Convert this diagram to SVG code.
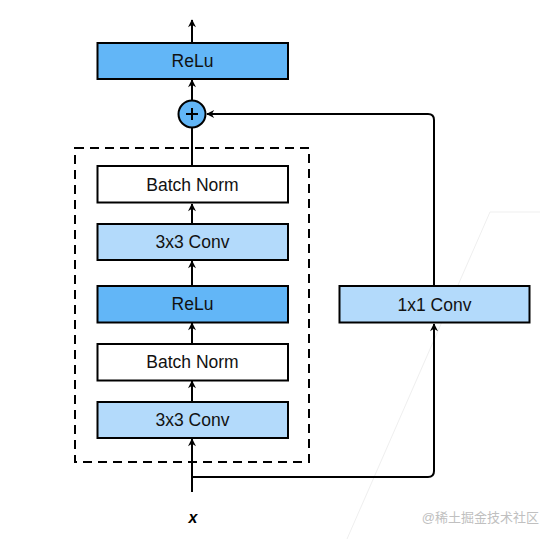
<svg xmlns="http://www.w3.org/2000/svg" width="543" height="539" viewBox="0 0 543 539">
<style>
.box{stroke:#000;stroke-width:2}
.dark{fill:#62b6f7}
.light{fill:#b3dafb}
.white{fill:#fff}
.lbl{font-family:"Liberation Sans",Arial,sans-serif;font-size:17.5px;fill:#111;text-anchor:middle;dominant-baseline:central}
.edge{fill:none;stroke:#000;stroke-width:2}
</style>
<defs>
<marker id="ah" viewBox="0 0 10 10" refX="9" refY="5" markerWidth="9" markerHeight="8" markerUnits="userSpaceOnUse" orient="auto">
<path d="M0,0 L10,5 L0,10 L3,5 Z" fill="#000"/>
</marker>
</defs>
<rect width="543" height="539" fill="#fff"/>
<g id="watermark-lines" stroke="#efefef" stroke-width="1" fill="none">
<path d="M540,212 L490,212 L347,539"/>
</g>
<g id="dashed-block">
<rect x="75" y="148" width="234" height="314" fill="none" stroke="#000" stroke-width="2" stroke-dasharray="9,6"/>
</g>
<g id="connectors">
<path class="edge" d="M192,43 L192,20" marker-end="url(#ah)"/>
<path class="edge" d="M192,100 L192,80" marker-end="url(#ah)"/>
<path class="edge" d="M192,166 L192,128"/>
<path class="edge" d="M192,224 L192,204" marker-end="url(#ah)"/>
<path class="edge" d="M192,286 L192,261" marker-end="url(#ah)"/>
<path class="edge" d="M192,344 L192,323" marker-end="url(#ah)"/>
<path class="edge" d="M192,402 L192,381" marker-end="url(#ah)"/>
<path class="edge" d="M192,492 L192,439" marker-end="url(#ah)"/>
<path class="edge" d="M192,477 L428,477 Q434,477 434,471 L434,324" marker-end="url(#ah)"/>
<path class="edge" d="M434,286 L434,120 Q434,114 428,114 L207,114" marker-end="url(#ah)"/>
</g>
<g id="relu-top">
<rect class="box dark" x="97.5" y="43" width="190.5" height="36"/>
<text class="lbl" x="192.5" y="61">ReLu</text>
</g>
<g id="add">
<circle class="box dark" cx="192" cy="114" r="13.5"/>
<path d="M186,114 L198,114 M192,108 L192,120" stroke="#000" stroke-width="2"/>
</g>
<g id="bn-top">
<rect class="box white" x="97.5" y="166" width="190.5" height="36.5"/>
<text class="lbl" x="192.5" y="184.5">Batch Norm</text>
</g>
<g id="conv-top">
<rect class="box light" x="97.5" y="224" width="190.5" height="36"/>
<text class="lbl" x="192.5" y="242">3x3 Conv</text>
</g>
<g id="relu-mid">
<rect class="box dark" x="97.5" y="286" width="190.5" height="36.5"/>
<text class="lbl" x="192.5" y="304">ReLu</text>
</g>
<g id="bn-bottom">
<rect class="box white" x="97.5" y="344" width="190.5" height="36.5"/>
<text class="lbl" x="192.5" y="362">Batch Norm</text>
</g>
<g id="conv-bottom">
<rect class="box light" x="97.5" y="402" width="190.5" height="36"/>
<text class="lbl" x="192.5" y="420">3x3 Conv</text>
</g>
<g id="conv1x1">
<rect class="box light" x="339.5" y="286" width="190" height="36.5"/>
<text class="lbl" x="434.5" y="304.5">1x1 Conv</text>
</g>
<g id="input">
<text x="193" y="517" font-family="Liberation Sans,Arial,sans-serif" font-size="16" font-weight="bold" font-style="italic" text-anchor="middle" dominant-baseline="central" fill="#000">x</text>
</g>
<text x="539" y="517" font-family="Liberation Sans,Noto Sans CJK SC,sans-serif" font-size="13" text-anchor="end" dominant-baseline="central" fill="#c0c0c0">@稀土掘金技术社区</text>
</svg>
